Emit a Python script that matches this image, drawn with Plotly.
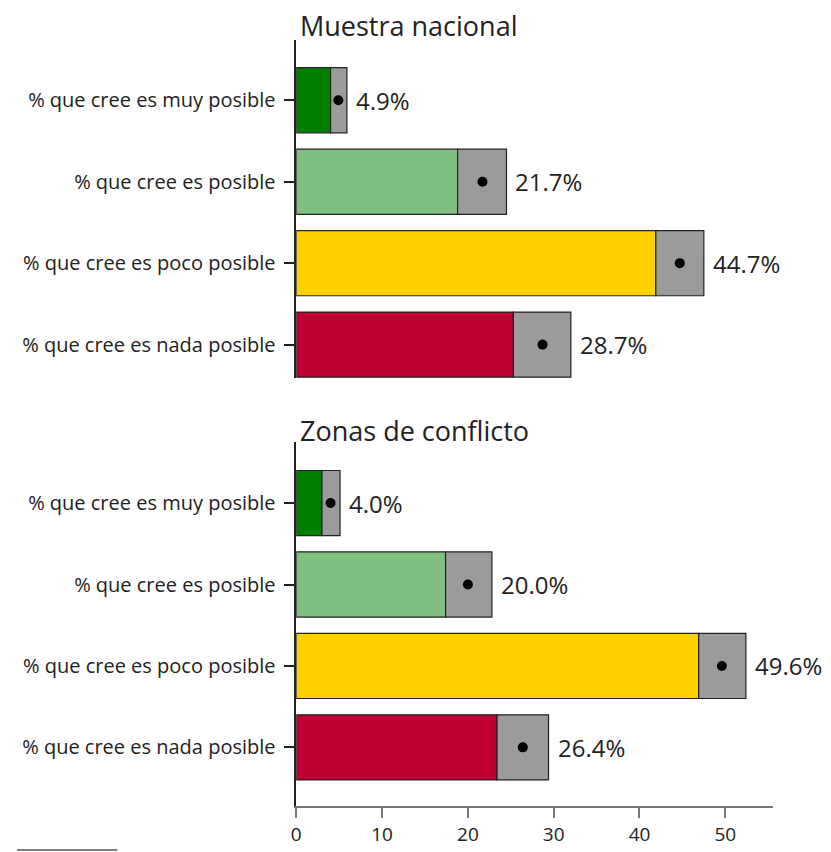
import plotly.graph_objects as go

# the page puts the plot 8px in from the top-left corner
OFF = 8
W, H = 831 - OFF, 852 - OFF

categories = [
    "% que cree es muy posible",
    "% que cree es posible",
    "% que cree es poco posible",
    "% que cree es nada posible",
]
bar_colors = ["#007f00", "#7fbf7f", "#ffd000", "#c00030"]

# Muestra nacional
nac_est = [4.9, 21.7, 44.7, 28.7]
nac_low = [4.0, 18.8, 41.9, 25.3]
nac_high = [5.9, 24.5, 47.5, 32.0]

# Zonas de conflicto
con_est = [4.0, 20.0, 49.6, 26.4]
con_low = [3.0, 17.4, 46.9, 23.4]
con_high = [5.1, 22.8, 52.4, 29.4]

x_ticks = [0, 10, 20, 30, 40, 50]

FONT = "Open Sans"
TXT = "#222222"


def px_x(p):
    return (p - OFF) / W


def px_y(p):
    return 1 - (p - OFF) / H


def add_panel(fig, est, low, high, xref, yref):
    pos = list(range(len(categories)))
    fig.add_trace(go.Bar(
        y=pos, x=low, orientation="h", width=0.8,
        marker=dict(color=bar_colors, line=dict(color="#222222", width=1.2)),
        xaxis=xref, yaxis=yref, showlegend=False, hoverinfo="skip",
    ))
    fig.add_trace(go.Bar(
        y=pos, x=[h - l for h, l in zip(high, low)], base=low,
        orientation="h", width=0.8,
        marker=dict(color="#9b9b9b", line=dict(color="#222222", width=1.2)),
        xaxis=xref, yaxis=yref, showlegend=False, hoverinfo="skip",
    ))
    fig.add_trace(go.Scatter(
        y=pos, x=est, mode="markers",
        marker=dict(color="black", size=10),
        xaxis=xref, yaxis=yref, showlegend=False, hoverinfo="skip",
    ))
    for p, h, e in zip(pos, high, est):
        fig.add_annotation(
            x=h, y=p, xref=xref, yref=yref, text=f"{e:.1f}%",
            showarrow=False, xanchor="left", yanchor="middle", xshift=7,
            font=dict(family=FONT, size=24, color=TXT),
        )


fig = go.Figure()
add_panel(fig, nac_est, nac_low, nac_high, "x", "y")
add_panel(fig, con_est, con_low, con_high, "x2", "y2")

x_dom = [px_x(293), px_x(773)]
x_range = [0, 55.6]

ycommon = dict(
    tickvals=list(range(len(categories))), ticktext=categories,
    showline=True, linecolor="#222222", linewidth=1.5,
    ticks="outside", ticklen=11, tickcolor="#222222", tickwidth=1.5,
    ticklabelstandoff=4,
    tickfont=dict(family=FONT, size=20, color=TXT),
    showgrid=False, zeroline=False, fixedrange=True,
)

fig.update_layout(
    width=W, height=H,
    margin=dict(l=0, r=0, t=0, b=0),
    plot_bgcolor="white", paper_bgcolor="white",
    barmode="overlay",
    font=dict(family=FONT, color=TXT),
    xaxis=dict(domain=x_dom, range=x_range, anchor="y", visible=False,
               showgrid=False, zeroline=False),
    yaxis=dict(domain=[px_y(378), px_y(40)], range=[3.41, -0.74],
               anchor="x", **ycommon),
    xaxis2=dict(domain=x_dom, range=x_range, anchor="y2",
                tickvals=x_ticks, showline=True, linecolor="#777777",
                linewidth=2, ticks="outside", ticklen=10, tickcolor="#777777",
                tickwidth=2, tickfont=dict(family=FONT, size=19, color=TXT),
                showgrid=False, zeroline=False),
    yaxis2=dict(domain=[px_y(806), px_y(442)], range=[3.72, -0.75],
                anchor="x2", **ycommon),
)

fig.add_annotation(
    x=px_x(295), y=px_y(25), xref="paper", yref="paper",
    text="Muestra nacional", showarrow=False,
    xanchor="left", yanchor="middle",
    font=dict(family=FONT, size=27, color=TXT),
)
fig.add_annotation(
    x=px_x(295), y=px_y(430), xref="paper", yref="paper",
    text="Zonas de conflicto", showarrow=False,
    xanchor="left", yanchor="middle",
    font=dict(family=FONT, size=27, color=TXT),
)

# footnote separator at the bottom left
fig.add_shape(
    type="line", xref="paper", yref="paper",
    x0=px_x(12), x1=px_x(113), y0=px_y(850), y1=px_y(850),
    line=dict(color="#555555", width=1.5),
)

fig.write_html("out.html")
